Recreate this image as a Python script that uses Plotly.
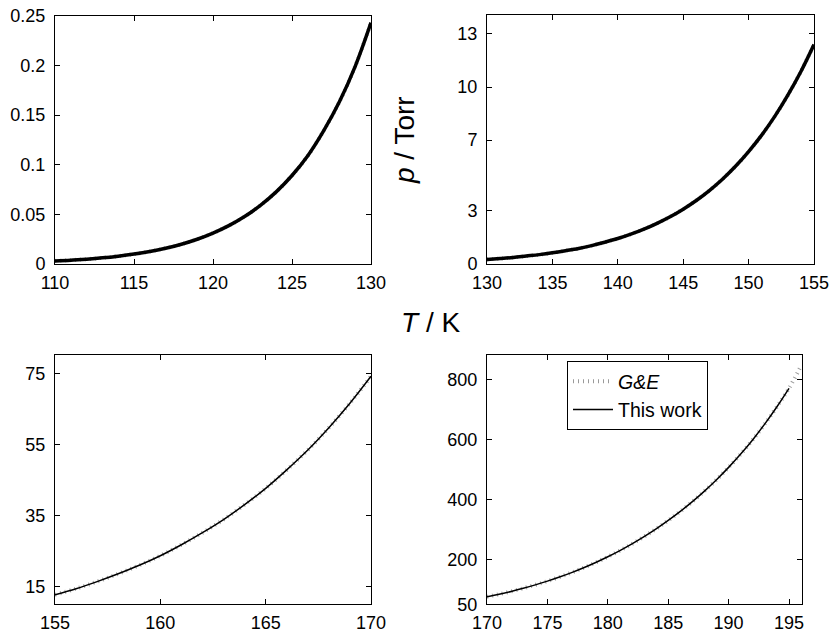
import plotly.graph_objects as go

W, H = 831, 633

# ---- data ----
T1 = [110, 111, 112, 113, 114, 115, 116, 117, 118, 119, 120,
      121, 122, 123, 124, 125, 126, 127, 128, 129, 130]
p1 = [0.0031, 0.0039, 0.0049, 0.0062, 0.0079, 0.0100, 0.0126, 0.0159, 0.0199, 0.0249, 0.0311,
      0.0386, 0.0478, 0.0590, 0.0726, 0.0891, 0.1090, 0.1340, 0.1633, 0.1990, 0.2430]

T2 = [130, 131, 132, 133, 134, 135, 136, 137, 138, 139, 140, 141, 142,
      143, 144, 145, 146, 147, 148, 149, 150, 151, 152, 153, 154, 155]
p2 = [0.26, 0.31, 0.37, 0.45, 0.53, 0.63, 0.75, 0.88, 1.04, 1.23, 1.44, 1.69, 1.97,
      2.30, 2.67, 3.10, 3.59, 4.15, 4.79, 5.52, 6.35, 7.28, 8.34, 9.54, 10.88, 12.40]

T3 = [155, 156, 157, 158, 159, 160, 161, 162, 163, 164, 165, 166, 167, 168, 169, 170]
p3 = [12.7, 14.4, 16.4, 18.6, 21.0, 23.7, 26.8, 30.2, 33.9, 38.1, 42.7, 47.9, 53.5, 59.8, 66.7, 74.3]

T4 = [170, 171, 172, 173, 174, 175, 176, 177, 178, 179, 180, 181, 182,
      183, 184, 185, 186, 187, 188, 189, 190, 191, 192, 193, 194, 195]
p4 = [75.0, 83.6, 93.0, 103.4, 114.8, 127.2, 140.8, 155.6, 171.8, 189.4, 208.4, 229.0, 251.3,
      275.4, 301.4, 329.4, 359.6, 392.2, 427.4, 465.4, 506.4, 550.8, 598.8, 651.4, 708.6, 770.0]

T4_ge = [170, 171, 172, 173, 174, 175, 176, 177, 178, 179, 180, 181, 182, 183,
         184, 185, 186, 187, 188, 189, 190, 191, 192, 193, 194, 195, 196]
p4_ge = [75.0, 83.6, 93.0, 103.4, 114.8, 127.2, 140.8, 155.6, 171.8, 189.4, 208.4, 229.0, 251.3, 275.4,
         301.4, 329.4, 359.6, 392.2, 427.4, 465.4, 506.4, 550.8, 598.8, 651.4, 708.6, 770.0, 845.0]

# tick values / labels
x1_ticks = [110, 115, 120, 125, 130]
y1_ticks = [0, 0.05, 0.1, 0.15, 0.2, 0.25]
y1_text = ["0", "0.05", "0.1", "0.15", "0.2", "0.25"]
x2_ticks = [130, 135, 140, 145, 150, 155]
y2_ticks = [0, 3, 7, 10, 13]
x3_ticks = [155, 160, 165, 170]
y3_ticks = [15, 35, 55, 75]
x4_ticks = [170, 175, 180, 185, 190, 195]
y4_ticks = [50, 200, 400, 600, 800]

FONT = "Liberation Sans, Arial, Helvetica, sans-serif"
GE_COLOR = "#9a9a9a"

def px_x(a, b):
    return [a / W, b / W]

def px_y(top, bottom):
    return [1 - bottom / H, 1 - top / H]

panels = [
    dict(T=T1, p=p1, Tge=T1, pge=p1, xd=px_x(55, 371), yd=px_y(15.7, 264),
         xr=[110, 130], yr=[0, 0.25], xt=x1_ticks, yt=y1_ticks, ytt=y1_text, lw=3.5, legend=False),
    dict(T=T2, p=p2, Tge=T2, pge=p2, xd=px_x(487, 814), yd=px_y(15, 264),
         xr=[130, 155], yr=[0, 14.07], xt=x2_ticks, yt=y2_ticks, ytt=None, lw=3.5, legend=False),
    dict(T=T3, p=p3, Tge=T3, pge=p3, xd=px_x(55, 371), yd=px_y(355, 604.3),
         xr=[155, 170], yr=[10, 80.3], xt=x3_ticks, yt=y3_ticks, ytt=None, lw=1.5, legend=False),
    dict(T=T4, p=p4, Tge=T4_ge, pge=p4_ge, xd=px_x(487, 802.3), yd=px_y(355, 604.3),
         xr=[170, 196.1], yr=[50, 881], xt=x4_ticks, yt=y4_ticks, ytt=None, lw=1.5, legend=True),
]

fig = go.Figure()
layout = dict(
    template="none",
    width=W, height=H,
    margin=dict(l=0, r=0, t=0, b=0, pad=0, autoexpand=False),
    paper_bgcolor="white", plot_bgcolor="white",
    font=dict(family=FONT, size=18, color="black"),
    showlegend=True,
    legend=dict(x=567 / W, y=1 - 361 / H, xanchor="left", yanchor="top",
                bgcolor="white", bordercolor="black", borderwidth=1,
                font=dict(family=FONT, size=19.5, color="black"),
                tracegroupgap=0, itemwidth=40),
)

for i, pn in enumerate(panels, start=1):
    xa = "x" if i == 1 else f"x{i}"
    ya = "y" if i == 1 else f"y{i}"
    fig.add_trace(go.Scatter(
        x=pn["Tge"], y=pn["pge"], mode="lines", name="<i>G&amp;E</i>",
        line=dict(color=GE_COLOR, width=4, dash="1px,4px", shape="spline"),
        xaxis=xa, yaxis=ya, showlegend=pn["legend"], hoverinfo="skip"))
    fig.add_trace(go.Scatter(
        x=pn["T"], y=pn["p"], mode="lines", name="This work",
        line=dict(color="black", width=pn["lw"], shape="spline"),
        xaxis=xa, yaxis=ya, showlegend=pn["legend"], hoverinfo="skip"))

    xkey = "xaxis" if i == 1 else f"xaxis{i}"
    ykey = "yaxis" if i == 1 else f"yaxis{i}"
    common = dict(showline=True, linecolor="black", linewidth=1, mirror="ticks",
                  ticks="inside", ticklen=5, tickwidth=1, tickcolor="black",
                  showgrid=False, zeroline=False, automargin=False,
                  tickfont=dict(family=FONT, size=18, color="black"))
    layout[xkey] = dict(domain=pn["xd"], range=pn["xr"], anchor=ya,
                        tickmode="array", tickvals=pn["xt"],
                        ticklabelstandoff=2, **common)
    yd = dict(domain=pn["yd"], range=pn["yr"], anchor=xa,
              tickmode="array", tickvals=pn["yt"], ticklabelstandoff=5, **common)
    if pn["ytt"] is not None:
        yd["ticktext"] = pn["ytt"]
    layout[ykey] = yd

fig.update_layout(**layout)

fig.add_annotation(text="<i>p</i> / Torr", xref="paper", yref="paper",
                   x=404 / W, y=1 - 140 / H, showarrow=False, textangle=-90,
                   font=dict(family=FONT, size=28, color="black"),
                   xanchor="center", yanchor="middle")
fig.add_annotation(text="<i>T</i> / K", xref="paper", yref="paper",
                   x=430 / W, y=1 - 322 / H, showarrow=False,
                   font=dict(family=FONT, size=28, color="black"),
                   xanchor="center", yanchor="middle")

fig.write_html("out.html",
               config={"displayModeBar": False},
               post_script="document.body.style.margin='0';"
                           "document.body.style.overflow='hidden';")
